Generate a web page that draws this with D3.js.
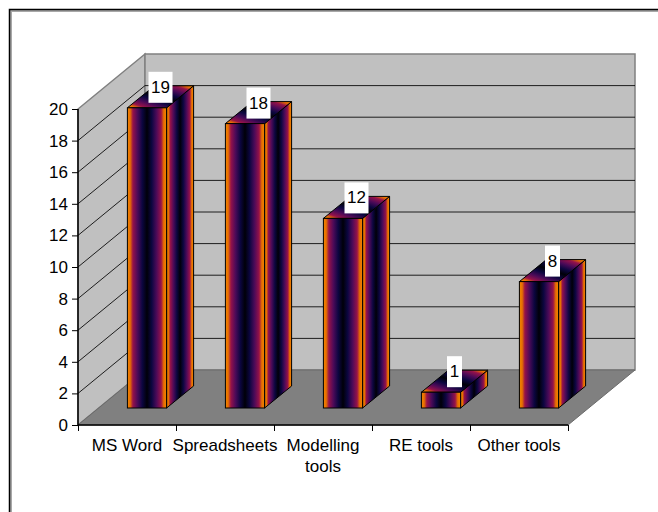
<!DOCTYPE html>
<html>
<head>
<meta charset="utf-8">
<script src="https://cdn.jsdelivr.net/npm/d3@7"></script>
<style>
  html, body { margin: 0; padding: 0; background: #fff; }
  svg { display: block; }
  text { font-family: "Liberation Sans", Arial, sans-serif; fill: #000; }
</style>
</head>
<body>
<svg width="658" height="512"></svg>
<script>
const categories = ["MS Word", "Spreadsheets", "Modelling tools", "RE tools", "Other tools"];
const values = [19, 18, 12, 1, 8];
const yTicks = [0, 2, 4, 6, 8, 10, 12, 14, 16, 18, 20];

const svg = d3.select("svg");

// front plane of the 3d box, the walls are pushed back by depth
const plotLeft = 78, plotRight = 568, plotBottom = 425, plotTop = 109;
const depth = { x: 67, y: -55 };
const barDepth = { x: 27, y: -22 };
const barShift = { x: 20, y: -17 };

const y = d3.scaleLinear().domain([0, 20]).range([plotBottom, plotTop]);
const xEdge = d3.scaleLinear().domain([0, categories.length]).range([plotLeft, plotRight]);
const x = d3.scaleBand().domain(categories).range([plotLeft, plotRight]).paddingInner(0.6).paddingOuter(0.3);

// gradients
const defs = svg.append("defs");
const ramp = [
  [0, "#f08400"], [0.07, "#e87000"], [0.14, "#96124a"], [0.26, "#4a0a58"],
  [0.38, "#0c0640"], [0.5, "#000008"], [0.62, "#0c0640"], [0.74, "#4a0a58"],
  [0.86, "#96124a"], [0.93, "#e87000"], [1, "#f08400"],
];
function addGradient(id, x1, y1, x2, y2) {
  const g = defs.append("linearGradient").attr("id", id)
    .attr("x1", x1).attr("y1", y1).attr("x2", x2).attr("y2", y2);
  ramp.forEach((s) => g.append("stop").attr("offset", s[0]).attr("stop-color", s[1]));
}
addGradient("barFront", 0, 0, 1, 0);
addGradient("barTop", 0, 1, 1, 0);

// outer frame, only top and left are visible
svg.append("path").attr("d", "M10.5,512V10.5H658").attr("fill", "none").attr("stroke", "#a8a8a8").attr("stroke-width", 3);
svg.append("path").attr("d", "M9.5,512V9.5H658").attr("fill", "none").attr("stroke", "#000").attr("stroke-width", 1.5);

const wallStroke = "#808080";
const backX = plotLeft + depth.x, backR = plotRight + depth.x;

// walls and floor
svg.append("polygon")
  .attr("points", [[plotLeft, plotBottom], [backX, plotBottom + depth.y], [backX, plotTop + depth.y], [plotLeft, plotTop]].join(" "))
  .attr("fill", "#c0c0c0").attr("stroke", wallStroke).attr("stroke-width", 1.5);
svg.append("polygon")
  .attr("points", [[backX, plotBottom + depth.y], [backR, plotBottom + depth.y], [backR, plotTop + depth.y], [backX, plotTop + depth.y]].join(" "))
  .attr("fill", "#c0c0c0").attr("stroke", wallStroke).attr("stroke-width", 1.5);

// gridlines, running back along the side wall then across the back wall
const grid = svg.append("g");
yTicks.filter((t) => t > 0 && t < 20).forEach((t) => {
  grid.append("path")
    .attr("d", `M${plotLeft},${y(t)}L${backX},${y(t) + depth.y}H${backR}`)
    .attr("fill", "none").attr("stroke", "#000").attr("stroke-width", 1).attr("stroke-opacity", 0.85);
});

svg.append("polygon")
  .attr("points", [[plotLeft, plotBottom], [backX, plotBottom + depth.y], [backR, plotBottom + depth.y], [plotRight, plotBottom]].join(" "))
  .attr("fill", "#808080").attr("stroke", "#6a6a6a").attr("stroke-width", 1);

// bars
const bars = svg.selectAll("g.bar").data(values).join("g").attr("class", "bar");
const base = plotBottom + barShift.y;
const h = (d) => plotBottom - y(d);
const bx = (i) => x(categories[i]) + barShift.x;
const bw = x.bandwidth();

bars.append("polygon") // side
  .attr("points", (d, i) => [
    [bx(i) + bw, base],
    [bx(i) + bw + barDepth.x, base + barDepth.y],
    [bx(i) + bw + barDepth.x, base + barDepth.y - h(d)],
    [bx(i) + bw, base - h(d)],
  ].join(" "))
  .attr("fill", "url(#barFront)").attr("stroke", "#000").attr("stroke-width", 1);
bars.append("polygon") // top
  .attr("points", (d, i) => [
    [bx(i), base - h(d)],
    [bx(i) + bw, base - h(d)],
    [bx(i) + bw + barDepth.x, base + barDepth.y - h(d)],
    [bx(i) + barDepth.x, base + barDepth.y - h(d)],
  ].join(" "))
  .attr("fill", "url(#barTop)").attr("stroke", "#000").attr("stroke-width", 1);
bars.append("rect") // front
  .attr("x", (d, i) => bx(i))
  .attr("y", (d) => base - h(d))
  .attr("width", bw)
  .attr("height", (d) => h(d))
  .attr("fill", "url(#barFront)").attr("stroke", "#000").attr("stroke-width", 1);

// value labels on white boxes
bars.append("rect")
  .attr("x", (d, i) => bx(i) + bw / 2 + barDepth.x / 2 - (d >= 10 ? 12 : 7.5))
  .attr("y", (d) => base - h(d) - 36)
  .attr("width", (d) => (d >= 10 ? 24 : 15))
  .attr("height", 31)
  .attr("fill", "#fff");
bars.append("text")
  .attr("x", (d, i) => bx(i) + bw / 2 + barDepth.x / 2)
  .attr("y", (d) => base - h(d) - 15)
  .attr("text-anchor", "middle")
  .attr("font-size", 17)
  .text((d) => d);

// axes
const yAxis = svg.append("g").attr("transform", `translate(${plotLeft},0)`)
  .call(d3.axisLeft(y).tickValues(yTicks).tickSize(6).tickPadding(4));
yAxis.selectAll("text").attr("font-size", 17).attr("font-family", '"Liberation Sans", Arial, sans-serif');

const xAxis = svg.append("g").attr("transform", `translate(0,${plotBottom})`)
  .call(d3.axisBottom(xEdge).ticks(categories.length).tickFormat("").tickSize(6));

[yAxis, xAxis].forEach((a) => {
  a.select(".domain").attr("stroke", "#000").attr("stroke-width", 1.5);
  a.selectAll("line").attr("stroke", "#000");
});
yAxis.select(".domain").attr("d", `M0,${plotTop}V${plotBottom}`);
xAxis.select(".domain").attr("d", `M${plotLeft},0H${plotRight}`);

// category labels, wrapped on a space when too wide
const labels = svg.selectAll("text.cat").data(categories).join("text")
  .attr("class", "cat")
  .attr("text-anchor", "middle")
  .attr("font-size", 17)
  .attr("y", 451);
labels.each(function (d, i) {
  const cx = (xEdge(i) + xEdge(i + 1)) / 2;
  const lines = d === "Modelling tools" ? ["Modelling", "tools"] : [d];
  d3.select(this).selectAll("tspan").data(lines).join("tspan")
    .attr("x", cx)
    .attr("dy", (l, j) => (j ? 21 : 0))
    .text((l) => l);
});
</script>
</body>
</html>
